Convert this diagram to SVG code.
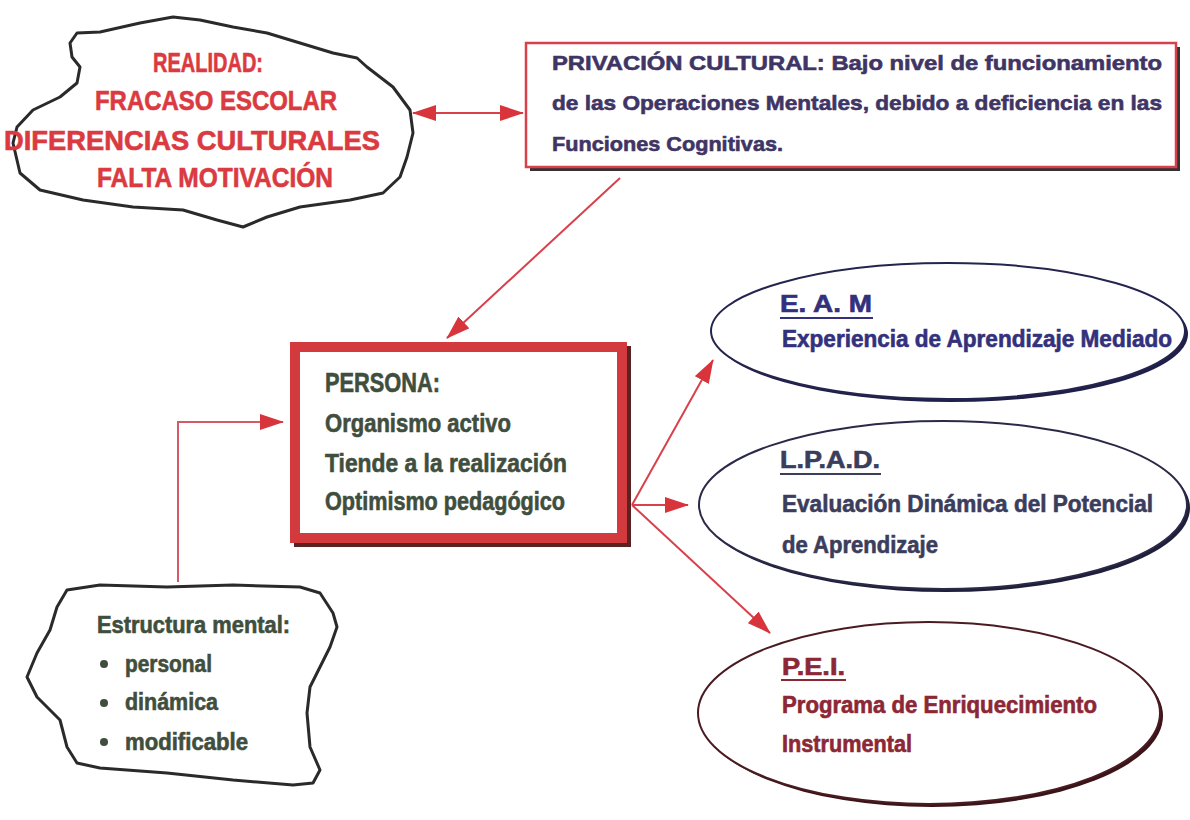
<svg xmlns="http://www.w3.org/2000/svg" width="1190" height="820" viewBox="0 0 1190 820">
<defs>
<style>
.t{font-family:"Liberation Sans",Arial,sans-serif;font-weight:bold;stroke-width:0.6}
.red{fill:#da3a40;stroke:#da3a40}
.pur{fill:#3f3565;stroke:#3f3565}
.grn{fill:#3f4e3d;stroke:#3f4e3d}
.blu{fill:#33307c;stroke:#33307c}
.gry{fill:#3b3d5c;stroke:#3b3d5c}
.mar{fill:#8c2736;stroke:#8c2736}
.con{stroke:#d8414c;stroke-width:2;fill:none}
.cloud{fill:#ffffff;stroke:#2a2a2a;stroke-width:3;stroke-linejoin:round}
</style>
<marker id="ah" viewBox="0 0 24 16" refX="23" refY="8" markerWidth="24" markerHeight="16" markerUnits="userSpaceOnUse" orient="auto-start-reverse">
<path d="M0,0 L24,8 L0,16 z" fill="#d8343c"/>
</marker>
</defs>
<rect width="1190" height="820" fill="#ffffff"/>

<g id="realidad">
<path class="cloud" d="M77,33 L100,32 L140,23 L173,17 L200,20 L233,27 L267,33 L300,43 L333,53 L357,58 L367,67 L393,87 L410,110 L413,133 L407,157 L400,177 L383,193 L350,200 L300,207 L267,217 L243,227 L217,220 L183,210 L133,207 L83,200 L40,190 L20,173 L13,143 L17,127 L33,110 L60,97 L77,83 L80,67 L72,57 L70,43 Z"/>
<text class="t red" x="153" y="72" font-size="28" textLength="110" lengthAdjust="spacingAndGlyphs">REALIDAD:</text>
<text class="t red" x="95" y="110" font-size="28" textLength="242" lengthAdjust="spacingAndGlyphs">FRACASO ESCOLAR</text>
<text class="t red" x="4" y="150" font-size="28" textLength="376" lengthAdjust="spacingAndGlyphs">DIFERENCIAS CULTURALES</text>
<text class="t red" x="97" y="187" font-size="28" textLength="236" lengthAdjust="spacingAndGlyphs">FALTA MOTIVACIÓN</text>
</g>

<g id="privacion">
<rect x="530" y="47" width="650" height="124" fill="#333333"/>
<rect x="526" y="43" width="650" height="124" fill="#ffffff" stroke="#d8414c" stroke-width="2.5"/>
<text class="t pur" x="552" y="70" font-size="21" textLength="610" lengthAdjust="spacingAndGlyphs">PRIVACIÓN CULTURAL: Bajo nivel de funcionamiento</text>
<text class="t pur" x="552" y="110" font-size="21" textLength="610" lengthAdjust="spacingAndGlyphs">de las Operaciones Mentales, debido a deficiencia en las</text>
<text class="t pur" x="552" y="151" font-size="21" textLength="231" lengthAdjust="spacingAndGlyphs">Funciones Cognitivas.</text>
</g>

<g id="persona">
<rect x="299" y="351" width="327" height="191" fill="none" stroke="#5a2222" stroke-width="10"/>
<rect x="295" y="347" width="327" height="191" fill="#ffffff" stroke="#d23a3e" stroke-width="10"/>
<text class="t grn" x="325" y="392" font-size="28" textLength="115" lengthAdjust="spacingAndGlyphs">PERSONA:</text>
<text class="t grn" x="325" y="432" font-size="25" textLength="186" lengthAdjust="spacingAndGlyphs">Organismo activo</text>
<text class="t grn" x="325" y="472" font-size="25" textLength="242" lengthAdjust="spacingAndGlyphs">Tiende a la realización</text>
<text class="t grn" x="325" y="510" font-size="25" textLength="240" lengthAdjust="spacingAndGlyphs">Optimismo pedagógico</text>
</g>

<g id="estructura">
<path class="cloud" d="M67,590 L100,585 L167,587 L233,585 L300,587 L320,593 L333,613 L337,627 L330,647 L320,667 L310,687 L307,713 L310,747 L320,770 L313,783 L293,785 L233,780 L167,773 L100,768 L77,763 L67,747 L60,720 L37,697 L27,677 L37,653 L50,630 L57,607 Z"/>
<text class="t grn" x="97" y="633" font-size="23" textLength="193" lengthAdjust="spacingAndGlyphs">Estructura mental:</text>
<circle cx="104" cy="664" r="4" fill="#3f4e3d"/>
<text class="t grn" x="125" y="672" font-size="23" textLength="87" lengthAdjust="spacingAndGlyphs">personal</text>
<circle cx="104" cy="703" r="4" fill="#3f4e3d"/>
<text class="t grn" x="125" y="710" font-size="23" textLength="93" lengthAdjust="spacingAndGlyphs">dinámica</text>
<circle cx="104" cy="742" r="4" fill="#3f4e3d"/>
<text class="t grn" x="125" y="750" font-size="23" textLength="123" lengthAdjust="spacingAndGlyphs">modificable</text>
</g>

<g id="eam">
<ellipse cx="951" cy="334" rx="237" ry="68" fill="#1f1f4a"/>
<ellipse cx="948" cy="331" rx="237" ry="68" fill="#ffffff" stroke="#24244f" stroke-width="2"/>
<text class="t blu" x="780" y="312" font-size="23" textLength="92" lengthAdjust="spacingAndGlyphs">E. A. M</text>
<line x1="780" y1="318" x2="873" y2="318" stroke="#33307c" stroke-width="2"/>
<text class="t blu" x="782" y="347" font-size="23" textLength="390" lengthAdjust="spacingAndGlyphs">Experiencia de Aprendizaje Mediado</text>
</g>

<g id="lpad">
<ellipse cx="946" cy="508" rx="244" ry="84" fill="#1f1f3a"/>
<ellipse cx="943" cy="505" rx="244" ry="84" fill="#ffffff" stroke="#2a2a48" stroke-width="2"/>
<text class="t gry" x="780" y="468" font-size="23" textLength="100" lengthAdjust="spacingAndGlyphs">L.P.A.D.</text>
<line x1="780" y1="474" x2="881" y2="474" stroke="#3b3d5c" stroke-width="2"/>
<text class="t gry" x="782" y="512" font-size="23" textLength="371" lengthAdjust="spacingAndGlyphs">Evaluación Dinámica del Potencial</text>
<text class="t gry" x="782" y="553" font-size="23" textLength="156" lengthAdjust="spacingAndGlyphs">de Aprendizaje</text>
</g>

<g id="pei">
<ellipse cx="932" cy="716" rx="231" ry="91" fill="#3a1418"/>
<ellipse cx="929" cy="713" rx="231" ry="91" fill="#ffffff" stroke="#4a1c22" stroke-width="2"/>
<text class="t mar" x="782" y="675" font-size="23" textLength="63" lengthAdjust="spacingAndGlyphs">P.E.I.</text>
<line x1="781" y1="680" x2="846" y2="680" stroke="#8c2736" stroke-width="2"/>
<text class="t mar" x="782" y="713" font-size="23" textLength="315" lengthAdjust="spacingAndGlyphs">Programa de Enriquecimiento</text>
<text class="t mar" x="782" y="752" font-size="23" textLength="130" lengthAdjust="spacingAndGlyphs">Instrumental</text>
</g>

<g id="connectors">
<line class="con" x1="413" y1="113" x2="523" y2="113" marker-start="url(#ah)" marker-end="url(#ah)"/>
<line class="con" x1="620" y1="178" x2="447" y2="338" marker-end="url(#ah)"/>
<polyline class="con" points="178,582 178,422 283,422" marker-end="url(#ah)" style="stroke:#d45a68"/>
<line class="con" x1="632" y1="505" x2="713" y2="360" marker-end="url(#ah)"/>
<line class="con" x1="632" y1="505" x2="688" y2="505" marker-end="url(#ah)"/>
<line class="con" x1="632" y1="505" x2="770" y2="633" marker-end="url(#ah)"/>
</g>
</svg>
